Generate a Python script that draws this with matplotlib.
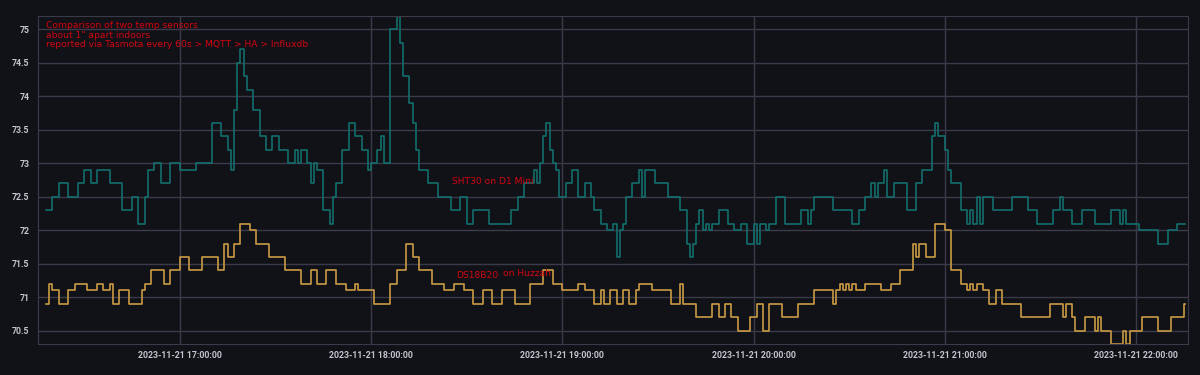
import matplotlib
matplotlib.use("Agg")
import matplotlib.pyplot as plt
import matplotlib.dates as mdates
import pandas as pd

# minutes after 2023-11-21 16:00 where the reading changed, and the new value
sht30_min = [18, 20, 22, 25, 28, 30, 32, 34, 38, 42, 45, 47, 49, 50, 52, 54, 57, 60, 65,
             70, 73, 75, 76, 77, 78, 79, 80, 81, 83, 85, 87, 89, 91, 94, 96, 97, 98, 100,
             101, 102, 103, 105, 107, 108, 109, 111, 113, 115, 117, 119, 120, 122, 123, 124,
             126, 128, 129, 130, 132, 133, 134, 135, 138, 141, 145, 148, 150, 152, 157, 164,
             166, 168, 171, 172, 173, 174, 175, 176, 177, 178, 179, 181, 183, 185, 187, 189,
             190, 192, 194, 196, 197, 198, 199, 200, 202, 204, 205, 206, 209, 213, 217, 219,
             220, 221, 222, 223, 224, 225, 226, 227, 229, 232, 234, 236, 238, 240, 241, 242,
             244, 245, 247, 250, 255, 257, 258, 259, 265, 271, 273, 275, 277, 278, 279, 281,
             282, 284, 288, 291, 293, 296, 297, 298, 300, 301, 302, 305, 307, 308, 309, 310,
             311, 312, 315, 321, 326, 329, 334, 336, 337, 340, 343, 347, 352, 355, 356, 357,
             361, 367, 370, 373]
sht30_val = [72.3, 72.5, 72.7, 72.5, 72.7, 72.9, 72.7, 72.9, 72.7, 72.3, 72.5, 72.1, 72.5, 72.9, 73.0, 72.7, 73.0, 72.9, 73.0,
             73.6, 73.4, 73.2, 72.9, 73.8, 74.5, 74.7, 74.3, 74.1, 73.8, 73.4, 73.2, 73.4, 73.2, 73.0, 73.2, 73.0, 73.2, 73.0,
             72.7, 73.0, 72.9, 72.3, 72.1, 72.5, 72.7, 73.2, 73.6, 73.4, 73.2, 72.9, 73.0, 73.2, 73.4, 73.0,
             75.0, 75.2, 74.8, 74.3, 73.9, 73.6, 73.2, 72.9, 72.7, 72.5, 72.3, 72.5, 72.1, 72.3, 72.1, 72.3,
             72.5, 72.7, 72.9, 72.7, 73.0, 73.4, 73.6, 73.2, 73.0, 72.9, 72.5, 72.7, 72.9, 72.5, 72.7, 72.5,
             72.3, 72.1, 72.0, 72.1, 71.6, 72.0, 72.1, 72.5, 72.7, 72.9, 72.5, 72.9, 72.7, 72.5, 72.3, 71.8,
             71.6, 71.8, 72.1, 72.3, 72.0, 72.1, 72.0, 72.1, 72.3, 72.1, 72.0, 72.1, 71.8, 72.1, 71.8, 72.1,
             72.0, 72.1, 72.5, 72.1, 72.3, 72.1, 72.3, 72.5, 72.3, 72.1, 72.3, 72.5, 72.7, 72.5, 72.7, 72.9,
             72.5, 72.7, 72.3, 72.7, 72.9, 73.4, 73.6, 73.4, 73.2, 72.9, 72.7, 72.3, 72.1, 72.3, 72.1, 72.5,
             72.1, 72.5, 72.3, 72.5, 72.3, 72.1, 72.3, 72.5, 72.3, 72.1, 72.3, 72.1, 72.3, 72.1, 72.3, 72.1,
             72.0, 71.8, 72.0, 72.1]

ds18_min = [18, 19, 20, 22, 25, 27, 31, 34, 36, 38, 39, 41, 44, 48, 49, 51, 55, 57, 60, 63, 67,
            72, 74, 75, 77, 79, 82, 84, 88, 93, 98, 101, 103, 106, 109, 112, 115, 116, 121, 126,
            128, 131, 133, 135, 139, 143, 146, 149, 152, 155, 158, 161, 165, 170, 174, 177, 180,
            185, 187, 190, 192, 193, 195, 197, 199, 201, 203, 204, 208, 214, 217, 218, 222, 227,
            229, 231, 233, 235, 239, 241, 243, 245, 249, 254, 259, 265, 266, 267, 268, 269, 270,
            271, 272, 275, 280, 283, 286, 290, 291, 292, 294, 297, 300, 302, 305, 307, 308, 309,
            310, 312, 314, 316, 318, 324, 333, 337, 338, 340, 341, 344, 347, 348, 349, 352, 356,
            357, 358, 362, 367, 371, 375]
ds18_val = [70.9, 71.2, 71.1, 70.9, 71.1, 71.2, 71.1, 71.2, 71.1, 71.2, 70.9, 71.1, 70.9, 71.1, 71.2, 71.4, 71.2, 71.4, 71.6, 71.4, 71.6,
            71.4, 71.8, 71.6, 71.8, 72.1, 72.0, 71.8, 71.6, 71.4, 71.2, 71.4, 71.2, 71.4, 71.2, 71.1, 71.2, 71.1, 70.9, 71.2,
            71.4, 71.8, 71.6, 71.4, 71.2, 71.1, 71.2, 71.1, 70.9, 71.1, 70.9, 71.1, 70.9, 71.2, 71.4, 71.2, 71.1,
            71.2, 71.1, 70.9, 71.1, 70.9, 71.1, 70.9, 71.1, 70.9, 71.1, 71.2, 71.1, 70.9, 71.2, 70.9, 70.7, 70.9,
            70.7, 70.9, 70.7, 70.5, 70.7, 70.9, 70.5, 70.9, 70.7, 70.9, 71.1, 70.9, 71.1, 71.2, 71.1, 71.2, 71.1,
            71.2, 71.1, 71.2, 71.1, 71.2, 71.4, 71.8, 71.6, 71.8, 71.6, 72.1, 72.0, 71.4, 71.2, 71.1, 71.2, 71.1,
            71.2, 71.1, 70.9, 71.1, 70.9, 70.7, 70.9, 70.7, 70.9, 70.7, 70.5, 70.7, 70.5, 70.7, 70.5, 70.3, 70.5,
            70.3, 70.5, 70.7, 70.5, 70.7, 70.9]
last_min = 375.5

start = pd.Timestamp("2023-11-21 16:00:00")
hour_ticks = pd.date_range("2023-11-21 17:00", "2023-11-21 22:00", freq="h")
y_ticks = [70.5, 71, 71.5, 72, 72.5, 73, 73.5, 74, 74.5, 75]

bg = "#111118"
grid = "#3a3a48"
tickc = "#c4c4ce"
red = "#d40010"

def series(mins, vals):
    t = [start + pd.Timedelta(minutes=m) for m in mins + [last_min]]
    return t, vals + [vals[-1]]

fig = plt.figure(figsize=(12, 3.75), dpi=100, facecolor=bg)
ax = fig.add_axes([38/1200, 31/375, 1150/1200, 328/375], facecolor=bg)

t, v = series(sht30_min, sht30_val)
ax.step(t, v, where="post", color="#136e6c", lw=1.2)
t, v = series(ds18_min, ds18_val)
ax.step(t, v, where="post", color="#c99a44", lw=1.2)

ax.set_ylim(70.3, 75.2)
ax.set_xlim(start + pd.Timedelta(minutes=15.5), start + pd.Timedelta(minutes=376.3))
ax.set_yticks(y_ticks)
ax.set_yticklabels(["%g" % y for y in y_ticks])
ax.set_xticks(hour_ticks)
ax.xaxis.set_major_formatter(mdates.DateFormatter("%Y-%m-%d %H:%M:%S"))

ax.grid(True, color=grid, lw=1)
ax.set_axisbelow(True)
for s in ax.spines.values():
    s.set_color(grid)
ax.tick_params(length=0, colors=tickc)
ax.tick_params(axis="y", pad=6)
ax.tick_params(axis="x", pad=5)
for lab in ax.get_xticklabels() + ax.get_yticklabels():
    lab.set_family("Roboto")
    lab.set_fontweight("bold")
    lab.set_fontsize(6.3)

fig.text(46/1200, 1 - 21/375,
         "Comparison of two temp sensors\nabout 1\" apart indoors\n"
         "reported via Tasmota every 60s > MQTT > HA > Influxdb",
         color=red, fontsize=6.6, va="top", ha="left", linespacing=1.1)
fig.text(452/1200, 1 - 181/375, "SHT30 on D1 Mini", color=red, fontsize=6.6, va="center")
fig.text(456/1200, 1 - 276/375, "DS18B20", color=red, fontsize=6.6, va="center")
fig.text(503/1200, 1 - 274/375, "on Huzzah", color=red, fontsize=6.6, va="center")

fig.savefig("out.png", dpi=100, facecolor=bg)
